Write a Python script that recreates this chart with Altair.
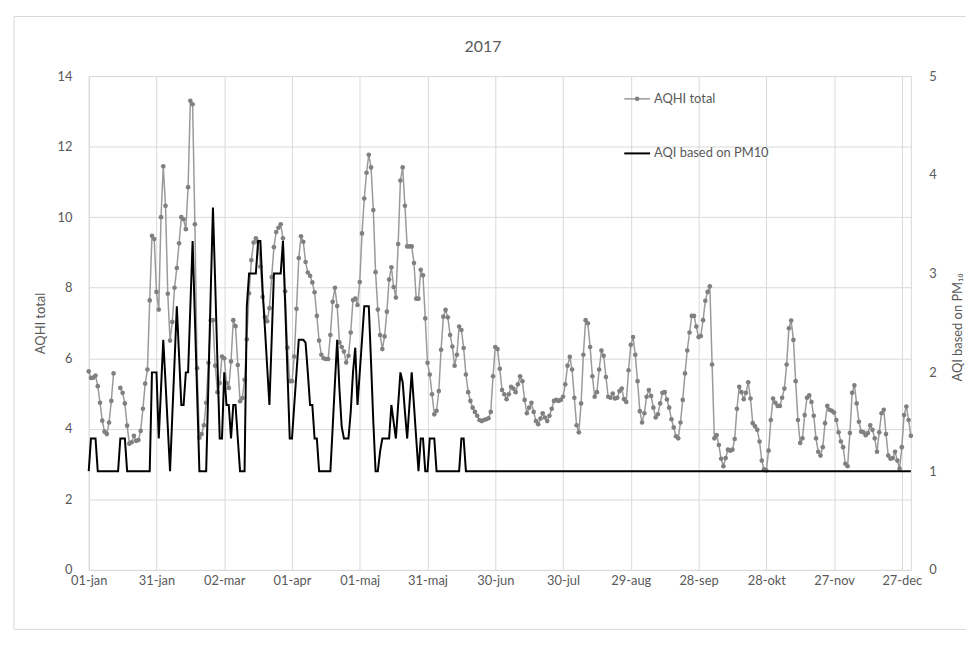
import altair as alt
import pandas as pd

# ---------------- data (one value per day of 2017) ----------------
aqhi_total = [
    5.63, 5.44, 5.45, 5.51, 5.21, 4.74, 4.23, 3.92, 3.85, 4.18,
    4.79, 5.57, None, None, 5.16, 5.02, 4.72, 4.09, 3.58, 3.62,
    3.80, 3.66, 3.68, 3.94, 4.57, 5.28, 5.68, 7.64, 9.47, 9.38,
    7.88, 7.38, 10.0, 11.44, 10.32, 7.83, 6.5, 7.03, 8.0, 8.56,
    9.26, 10.0, 9.94, 9.66, 10.85, 13.3, 13.2, 9.8, 5.72, 3.75,
    3.85, 4.1, 4.74, 5.87, 7.08, 7.08, 5.79, 5.04, 5.3, 6.05,
    6.0, 5.3, 5.16, 5.91, 7.08, 6.91, 5.81, 4.78, 4.87, 5.39,
    6.54, 7.84, 8.78, 9.28, 9.4, 9.3, 8.6, 7.74, 7.17, 7.05,
    7.42, 8.3, 9.15, 9.58, 9.7, 9.8, 9.4, 7.9, 6.3, 5.35,
    5.35, 6.05, 7.4, 8.84, 9.46, 9.3, 8.73, 8.43, 8.34, 8.15,
    7.87, 7.2, 6.5, 6.1, 6.0, 5.98, 5.98, 6.66, 7.6, 8.0,
    7.48, 6.45, 6.32, 6.19, 5.88, 6.07, 6.73, 7.65, 7.69, 7.51,
    8.16, 9.54, 10.53, 11.26, 11.77, 11.41, 10.2, 8.44, 7.38, 6.66,
    6.26, 6.62, 7.32, 8.23, 8.58, 8.02, 7.72, 9.24, 11.04, 11.41,
    10.32, 9.17, 9.17, 9.17, 8.7, 7.69, 7.69, 8.51, 8.35, 7.13,
    5.87, 5.54, 4.98, 4.41, 4.51, 5.07, 6.24, 7.18, 7.37, 7.16,
    6.66, 6.33, 5.79, 6.1, 6.9, 6.8, 6.29, 5.54, 5.04, 4.79,
    4.6, 4.48, 4.37, 4.25, 4.22, 4.25, 4.27, 4.3, 4.48, 5.49,
    6.32, 6.26, 5.7, 5.1, 4.98, 4.84, 4.98, 5.19, 5.14, 5.04,
    5.26, 5.49, 5.35, 4.82, 4.44, 4.6, 4.74, 4.48, 4.22, 4.13,
    4.29, 4.44, 4.32, 4.22, 4.37, 4.57, 4.79, 4.82, 4.79, 4.82,
    4.91, 5.26, 5.79, 6.04, 5.68, 4.88, 4.1, 3.9, 4.72, 6.1,
    7.08, 6.99, 6.32, 5.49, 4.91, 5.04, 5.68, 6.22, 6.07, 5.47,
    4.91, 4.88, 5.0, 4.86, 4.88, 5.07, 5.14, 4.84, 4.76, 5.66,
    6.38, 6.6, 6.1, 5.35, 4.5, 4.18, 4.44, 4.91, 5.1, 4.93,
    4.6, 4.32, 4.41, 4.72, 5.02, 5.04, 4.83, 4.6, 4.27, 4.04,
    3.79, 3.73, 4.18, 4.82, 5.57, 6.22, 6.73, 7.2, 7.2, 6.9,
    6.6, 6.63, 7.08, 7.63, 7.88, 8.04, 5.82, 3.73, 3.82, 3.54,
    3.15, 2.94, 3.17, 3.41, 3.38, 3.41, 3.71, 4.57, 5.19, 5.04,
    4.84, 5.02, 5.32, 4.86, 4.16, 4.07, 3.97, 3.64, 3.1, 2.85,
    2.82, 3.38, 4.25, 4.86, 4.74, 4.65, 4.65, 4.88, 5.14, 5.82,
    6.85, 7.07, 6.52, 5.35, 4.25, 3.6, 3.73, 4.39, 4.88, 4.95,
    4.76, 4.37, 3.73, 3.35, 3.24, 3.48, 4.16, 4.65, 4.54, 4.51,
    4.46, 4.25, 3.9, 3.64, 3.48, 3.01, 2.94, 3.88, 5.02, 5.23,
    4.72, 4.2, 3.92, 3.9, 3.82, 3.88, 4.1, 3.97, 3.73, 3.35,
    3.9, 4.44, 4.54, 3.85, 3.24, 3.15, 3.17, 3.35, 3.1, 2.87,
    3.48, 4.39, 4.63, 4.25, 3.8,
]

aqi_pm10 = [
    1, 1.33, 1.33, 1.33, 1, 1, 1, 1, 1, 1,
    1, 1, 1, 1, 1.33, 1.33, 1.33, 1, 1, 1,
    1, 1, 1, 1, 1, 1, 1, 1, 2.0, 2.0,
    2.0, 1.33, 1.83, 2.33, 1.9, 1.45, 1.0, 1.56, 2.11, 2.67,
    2.17, 1.67, 1.67, 2.0, 2.0, 2.67, 3.33, 2.55, 1.78, 1,
    1, 1, 1, 1.9, 2.8, 3.67, 2.9, 2.1, 1.33, 1.33,
    2.0, 1.67, 1.67, 1.33, 1.67, 1.67, 1.33, 1, 1, 1,
    2.67, 3.0, 3.0, 3.0, 3.0, 3.33, 3.33, 2.83, 2.45, 2.06,
    1.67, 2.33, 3.0, 3.0, 3.0, 3.0, 3.33, 2.67, 2.0, 1.33,
    1.33, 1.67, 2.0, 2.33, 2.33, 2.33, 2.3, 2.0, 1.67, 1.67,
    1.33, 1.33, 1, 1, 1, 1, 1, 1, 1.44, 1.89,
    2.33, 1.83, 1.45, 1.33, 1.33, 1.33, 1.6, 2.0, 2.25, 1.67,
    2.0, 2.33, 2.67, 2.67, 2.67, 2.1, 1.5, 1, 1, 1.2,
    1.33, 1.33, 1.33, 1.33, 1.67, 1.5, 1.33, 1.67, 2.0, 1.9,
    1.6, 1.33, 1.67, 2.0, 1.67, 1.33, 1, 1.33, 1.33, 1,
    1, 1.33, 1.33, 1.33, 1, 1, 1, 1, 1, 1,
    1, 1, 1, 1, 1, 1.33, 1.33, 1, 1, 1,
] + [1] * 195

x_tick_days = [0, 30, 60, 90, 120, 150, 180, 210, 240, 270, 300, 330, 360]
x_tick_labels = ["01-jan", "31-jan", "02-mar", "01-apr", "01-maj", "31-maj", "30-jun",
                 "30-jul", "29-aug", "28-sep", "28-okt", "27-nov", "27-dec"]
left_ticks = [0, 2, 4, 6, 8, 10, 12, 14]
right_ticks = [0, 1, 2, 3, 4, 5]
series_names = ["AQHI total", "AQI based on PM10"]
chart_title = "2017"
left_title = "AQHI total"
right_title = "AQI based on PM\u2081\u2080"

# ---------------- chart ----------------
df = pd.DataFrame({"day": list(range(len(aqhi_total))), "aqhi": aqhi_total, "aqi": aqi_pm10})

FONT = "Lato"
TXT = "#595959"
GRID = "#d9d9d9"
FS = 13
W, H = 829, 498

label_expr = "[" + ",".join("'%s'" % s for s in x_tick_labels) + "][round(datum.value/30)]"

common_axis = dict(labelFont=FONT, labelFontSize=FS, labelColor=TXT,
                   titleFont=FONT, titleFontSize=FS, titleColor=TXT, titleFontWeight="normal",
                   domain=False, ticks=False)

x_enc = alt.X(
    "day:Q",
    scale=alt.Scale(domain=[0, 364], nice=False, zero=False),
    axis=alt.Axis(values=x_tick_days, labelExpr=label_expr, title=None, grid=True,
                  gridColor=GRID, labelPadding=5, labelFlush=False, labelOverlap=False,
                  **common_axis),
)

base = alt.Chart(df)

aqhi_line = base.mark_line(
    color="#9a9a9a", strokeWidth=1.5,
    point=alt.OverlayMarkDef(filled=True, color="#808080", size=22, opacity=1),
).encode(
    x=x_enc,
    y=alt.Y("aqhi:Q", scale=alt.Scale(domain=[0, 14], nice=False),
            axis=alt.Axis(values=left_ticks, orient="left", title=left_title, grid=True,
                          gridColor=GRID, labelPadding=17,
                          titleX=-49, titleY=H / 2, titleAngle=270, titleAlign="center",
                          titleBaseline="middle", **common_axis)),
)

aqi_line = base.mark_line(color="black", strokeWidth=2).encode(
    x=x_enc,
    y=alt.Y("aqi:Q", scale=alt.Scale(domain=[0, 5], nice=False),
            axis=alt.Axis(values=right_ticks, orient="right", title=right_title, grid=False,
                          labelPadding=18,
                          titleX=47, titleY=H / 2 + 4, titleAngle=270, titleAlign="center",
                          titleBaseline="middle", **common_axis)),
)

one = pd.DataFrame({"k": [0]})
lx0, lx1, ltx = 540, 566, 570
ly1, ly2 = 23, 78
leg = [
    alt.Chart(one).mark_rule(color="#9a9a9a", strokeWidth=1.5).encode(
        x=alt.value(lx0), x2=alt.value(lx1), y=alt.value(ly1)),
    alt.Chart(one).mark_point(filled=True, color="#808080", size=22, opacity=1).encode(
        x=alt.value((lx0 + lx1) / 2), y=alt.value(ly1)),
    alt.Chart(one).mark_text(align="left", baseline="middle", font=FONT, fontSize=FS, color=TXT).encode(
        x=alt.value(ltx), y=alt.value(ly1), text=alt.value(series_names[0])),
    alt.Chart(one).mark_rule(color="black", strokeWidth=2).encode(
        x=alt.value(lx0), x2=alt.value(lx1), y=alt.value(ly2)),
    alt.Chart(one).mark_text(align="left", baseline="middle", font=FONT, fontSize=FS, color=TXT).encode(
        x=alt.value(ltx), y=alt.value(ly2), text=alt.value(series_names[1])),
    # outer chart-area frame (Excel style)
    alt.Chart(one).mark_rect(fill=None, stroke=GRID, strokeWidth=1).encode(
        x=alt.value(-75.4), x2=alt.value(900), y=alt.value(-60), y2=alt.value(558)),
]

lines = alt.layer(aqhi_line, aqi_line).resolve_scale(y="independent")

chart = alt.layer(lines, *leg).properties(
    width=W, height=H,
    background="white",
    title=alt.TitleParams(chart_title, fontSize=16, font=FONT, color=TXT, fontWeight="normal",
                          anchor="middle", frame="group", offset=20, dx=-17, dy=59),
    autosize=alt.AutoSizeParams(type="none"),
    padding={"left": 81.4, "top": 66, "right": 55.6, "bottom": 62},
).configure_view(
    stroke=GRID, strokeWidth=1
)

chart.save("out.html", embed_options={"renderer": "svg", "actions": False})
